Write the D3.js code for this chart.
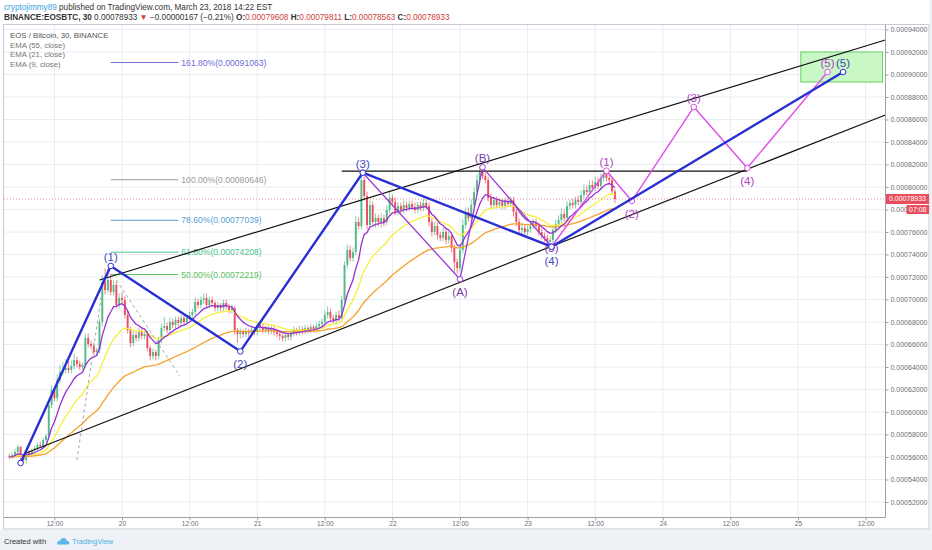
<!DOCTYPE html>
<html><head><meta charset="utf-8">
<script src="https://cdn.jsdelivr.net/npm/d3@7/dist/d3.min.js"></script>
<style>body{margin:0;background:#fff;} svg{display:block;font-family:"Liberation Sans",Arial,sans-serif;}</style>
</head><body><svg id="c" width="932" height="550"></svg>
<script>
// ---------- DATA (prices in satoshi, 1e-8 BTC) ----------
const candleStart = "2018-03-19T04:00:00Z";
const candleMinutes = 30;
const firstOpen = 56100;
const closes = [56000,56180,56440,56890,56180,55730,56440,56270,56620,56800,
 57070,56980,57510,57870,60620,61960,61240,62840,63560,63730,
 63910,63730,64090,64620,64270,64000,64180,66580,66040,65870,
 65330,65510,68000,71560,70840,71730,70670,71290,69510,70130,
 69960,68620,67290,66130,66840,66580,67110,66760,66930,65690,
 64980,65330,64980,66400,67470,67640,67290,68000,67730,68180,
 67910,68360,68000,68360,68620,68890,69780,69510,69960,70130,
 69510,69960,69690,69240,69510,69240,69690,69420,69070,69240,
 67290,66930,67110,66930,67200,67020,67290,67110,67730,67560,
 67290,67470,67200,67380,67110,66930,66760,66580,66840,66670,
 67020,67290,67110,67380,67200,67470,67290,67560,67380,67640,
 67820,68000,68620,68890,68360,68180,68620,68360,69960,73070,
 74400,73690,74220,76890,76530,80620,79200,76620,78400,76890,
 77240,76890,77240,76890,77960,79020,78670,77780,78310,77960,
 78400,78130,78490,78220,77960,78400,78130,78580,78310,76890,
 76000,76530,75730,75470,76000,75290,75640,74580,73330,72800,
 74400,76620,77780,77240,78400,79560,80620,81330,80980,80620,
 79020,78400,78840,78400,78670,78310,78760,78490,78840,77780,
 76890,76180,76360,76000,76270,76530,76890,76530,76000,75640,
 75470,75110,75290,76180,76710,77070,77600,77240,78310,78580,
 78400,78840,78670,79290,79730,79560,80180,79910,80440,80090,
 80800,81160,80800,80620,79608,78933];
// wick lengths beyond the body, in units of 100 satoshi
const upperWicks = [2,2,3,2,1,1,2,2,1,2,
 2,3,2,2,3,4,3,5,6,7,
 8,6,5,6,3,3,2,4,4,3,
 3,2,3,6,12,10,6,4,3,4,
 5,3,4,3,4,3,4,3,2,3,
 2,3,2,3,4,8,3,4,3,3,
 3,3,2,3,3,3,4,3,3,4,
 4,3,3,2,3,2,3,3,2,3,
 2,2,3,2,3,2,3,2,3,2,
 3,2,2,3,2,2,2,2,3,2,
 3,3,2,3,2,3,2,3,2,3,
 3,3,4,5,3,3,3,4,4,3,
 5,4,4,5,4,7,3,4,4,3,
 4,3,4,3,4,7,3,4,3,3,
 4,3,3,3,4,3,3,4,3,3,
 3,4,3,3,4,3,4,3,3,3,
 4,5,4,4,5,4,5,5,4,3,
 3,4,3,3,3,3,3,3,3,3,
 3,3,4,3,3,3,3,3,3,3,
 3,3,3,4,4,4,5,4,4,3,
 4,3,4,4,5,4,4,4,5,4,
 4,4,5,4,3,2.03];
const lowerWicks = [2,2,2,2,7,2,3,2,2,2,
 2,2,2,2,3,3,3,3,3,3,
 3,3,3,3,3,3,3,3,3,3,
 3,3,3,4,4,3,3,3,3,3,
 3,3,3,4,3,3,3,3,3,3,
 4,3,4,3,3,3,3,3,3,3,
 3,3,3,3,3,3,3,3,3,3,
 3,3,3,3,3,3,3,3,3,3,
 4,8,4,3,3,3,3,3,3,3,
 3,3,3,3,3,3,4,3,3,3,
 3,3,3,3,3,3,3,3,3,3,
 3,3,3,3,3,3,3,3,3,3,
 3,3,3,3,3,3,4,4,3,4,
 5,4,5,4,3,3,3,3,3,3,
 3,3,3,3,3,3,3,3,3,4,
 4,3,4,3,3,4,3,4,10,5,
 3,3,3,3,3,3,3,3,3,3,
 3,3,3,3,3,3,3,3,3,4,
 4,3,4,3,3,3,3,3,3,3,
 3,4,4,3,3,3,3,3,3,3,
 3,3,3,3,3,3,3,3,3,3,
 3,3,3,3,3,3.7];

const emaPeriods = [55, 21, 9];
const emaColors = ["#f5a02a", "#f7ef3a", "#9a2fd0"];

const yTicks = [52000,54000,56000,58000,60000,62000,64000,66000,68000,70000,72000,74000,76000,78000,80000,82000,84000,86000,88000,90000,92000,94000];
const xTickTimes = ["2018-03-19T12:00:00Z","2018-03-20T00:00:00Z","2018-03-20T12:00:00Z","2018-03-21T00:00:00Z","2018-03-21T12:00:00Z","2018-03-22T00:00:00Z","2018-03-22T12:00:00Z","2018-03-23T00:00:00Z","2018-03-23T12:00:00Z","2018-03-24T00:00:00Z","2018-03-24T12:00:00Z","2018-03-25T00:00:00Z","2018-03-25T12:00:00Z"];
const xTickLabels = ["12:00","20","12:00","21","12:00","22","12:00","23","12:00","24","12:00","25","12:00"];

const fibLabels = ["161.80%","100.00%","78.60%","61.80%","50.00%"];
const fibPrices = [91063, 80646, 77039, 74208, 72219];
const fibColors = ["#6d6dd6","#9a9a9a","#5a9fd6","#4cc28e","#5dc35d"];
const fibSpan = ["2018-03-19T22:00:00Z","2018-03-20T10:00:00Z"];

const impulseTimes = ["2018-03-19T06:00:00Z","2018-03-19T22:00:00Z","2018-03-20T21:00:00Z","2018-03-21T18:45:00Z","2018-03-23T04:15:00Z","2018-03-25T08:00:00Z"];
const impulsePrices = [55470, 72980, 65390, 81270, 74690, 90220];
const impulseLabels = ["", "(1)", "(2)", "(3)", "(4)", "(5)"];

const correctionTimes = ["2018-03-21T18:45:00Z","2018-03-22T12:00:00Z","2018-03-22T16:00:00Z","2018-03-23T04:15:00Z"];
const correctionPrices = [81270, 71800, 81750, 74690];
const correctionLabels = ["", "(A)", "(B)", "(5)"];

const projectionTimes = ["2018-03-23T04:15:00Z","2018-03-23T14:00:00Z","2018-03-23T18:30:00Z","2018-03-24T05:30:00Z","2018-03-24T15:00:00Z","2018-03-25T05:15:00Z"];
const projectionPrices = [74690, 81450, 78760, 87110, 81690, 90220];
const projectionLabels = ["", "(1)", "(2)", "(3)", "(4)", "(5)"];

const trendLines = [
  [["2018-03-19T20:00:00Z", 71730], ["2018-03-25T15:30:00Z", 93070]],
  [["2018-03-19T07:00:00Z", 56360], ["2018-03-25T15:30:00Z", 86400]],
  [["2018-03-21T15:00:00Z", 81420], ["2018-03-24T15:00:00Z", 81420]]
];
const dashedLines = [
  [["2018-03-19T16:00:00Z", 55730], ["2018-03-19T20:45:00Z", 71730]],
  [["2018-03-19T23:00:00Z", 71730], ["2018-03-20T10:15:00Z", 63200]]
];
const targetTimes = ["2018-03-25T00:30:00Z","2018-03-25T15:00:00Z"];
const targetPrices = [89330, 92000];

const symbolText = "BINANCE:EOSBTC, 30";
const changeText = "\u22120.00000167 (\u22120.21%)";
const countdownText = "07:08";

// ---------- SETUP ----------
const svg = d3.select("#c");
const W = 932, H = 550;
const P = {l: 4, r: 885.5, t: 24.5, b: 517.5};
const x = d3.scaleUtc().domain([new Date("2018-03-19T12:00:00Z"), new Date("2018-03-25T12:00:00Z")]).range([54.4, 865.6]);
const y = d3.scaleLinear().domain([52000, 94000]).range([502, 29.5]);
const fmt = v => (v / 1e8).toFixed(8);
const T = s => new Date(s);

svg.append("rect").attr("width", W).attr("height", H).attr("fill", "#eef1f6");
svg.append("rect").attr("width", 929.5).attr("height", 529.5).attr("fill", "#fff");

svg.append("defs").append("clipPath").attr("id", "pc").append("rect")
  .attr("x", P.l).attr("y", P.t).attr("width", P.r - P.l).attr("height", P.b - P.t);

const g = svg.append("g").attr("clip-path", "url(#pc)");

// grid
g.selectAll(".vg").data(xTickTimes).join("line")
  .attr("x1", d => x(T(d))).attr("x2", d => x(T(d))).attr("y1", P.t).attr("y2", P.b)
  .attr("stroke", "#e8ecf3").attr("stroke-width", 1);
g.selectAll(".hg").data(yTicks).join("line")
  .attr("x1", P.l).attr("x2", P.r).attr("y1", d => y(d)).attr("y2", d => y(d))
  .attr("stroke", "#e8ecf3").attr("stroke-width", 1);

// target box
g.append("rect")
  .attr("x", x(T(targetTimes[0]))).attr("width", x(T(targetTimes[1])) - x(T(targetTimes[0])))
  .attr("y", y(targetPrices[1])).attr("height", y(targetPrices[0]) - y(targetPrices[1]))
  .attr("fill", "#c9f7c6").attr("stroke", "#62d45e").attr("stroke-width", 1);

// fib levels
fibPrices.forEach((p, i) => {
  g.append("line").attr("x1", x(T(fibSpan[0]))).attr("x2", x(T(fibSpan[1])))
    .attr("y1", y(p)).attr("y2", y(p)).attr("stroke", fibColors[i]).attr("stroke-width", 1);
  g.append("text").attr("x", x(T(fibSpan[1])) + 3).attr("y", y(p)).attr("dy", "0.35em")
    .attr("font-size", 8.6).attr("fill", fibColors[i]).text(fibLabels[i] + "(" + fmt(p) + ")");
});

// candles
const t0 = T(candleStart).getTime();
const candles = closes.map((c, i) => {
  const o = i === 0 ? firstOpen : closes[i - 1];
  return {t: new Date(t0 + i * candleMinutes * 60000), o, c,
    h: Math.max(o, c) + upperWicks[i] * 100, l: Math.min(o, c) - lowerWicks[i] * 100};
});
const up = "#53b987", dn = "#eb4d5c";
const cg = g.append("g");
candles.forEach(d => {
  const cx = x(d.t), col = d.c >= d.o ? up : dn;
  cg.append("line").attr("x1", cx).attr("x2", cx).attr("y1", y(d.h)).attr("y2", y(d.l))
    .attr("stroke", col).attr("stroke-width", 0.7);
  const yt = y(Math.max(d.o, d.c)), yb = y(Math.min(d.o, d.c));
  cg.append("rect").attr("x", cx - 0.95).attr("width", 1.9).attr("y", yt).attr("height", Math.max(0.8, yb - yt))
    .attr("fill", col);
});

// EMAs
emaPeriods.forEach((n, k) => {
  const a = 2 / (n + 1);
  let e = null;
  const pts = candles.map(d => { e = e === null ? d.c : a * d.c + (1 - a) * e; return [d.t, e]; });
  g.append("path").datum(pts).attr("fill", "none").attr("stroke", emaColors[k]).attr("stroke-width", 1.3)
    .attr("d", d3.line().x(p => x(p[0])).y(p => y(p[1])));
});

// last price dotted line
const last = candles[candles.length - 1];
g.append("line").attr("x1", P.l).attr("x2", P.r).attr("y1", y(last.c)).attr("y2", y(last.c))
  .attr("stroke", "#e8707c").attr("stroke-width", 0.8).attr("stroke-dasharray", "1,2");

// trend lines
trendLines.forEach(l => g.append("line")
  .attr("x1", x(T(l[0][0]))).attr("y1", y(l[0][1])).attr("x2", x(T(l[1][0]))).attr("y2", y(l[1][1]))
  .attr("stroke", "#111").attr("stroke-width", 1.2));
dashedLines.forEach(l => g.append("line")
  .attr("x1", x(T(l[0][0]))).attr("y1", y(l[0][1])).attr("x2", x(T(l[1][0]))).attr("y2", y(l[1][1]))
  .attr("stroke", "#9a9a9a").attr("stroke-width", 0.9).attr("stroke-dasharray", "3,3"));

// waves
function wave(times, prices, labels, color, width, labelColor, labelOffsets) {
  const pts = times.map((t, i) => [x(T(t)), y(prices[i])]);
  g.append("path").datum(pts).attr("fill", "none").attr("stroke", color).attr("stroke-width", width)
    .attr("stroke-linejoin", "round").attr("d", d3.line());
  pts.forEach((p, i) => {
    g.append("circle").attr("cx", p[0]).attr("cy", p[1]).attr("r", 2.8)
      .attr("fill", "#fff").attr("stroke", color).attr("stroke-width", 1);
    if (labels[i]) {
      g.append("text").attr("x", p[0]).attr("y", p[1] + labelOffsets[i])
        .attr("dy", "0.35em").attr("text-anchor", "middle").attr("font-size", 11.5)
        .attr("fill", labelColor).text(labels[i]);
    }
  });
}
wave(correctionTimes, correctionPrices, correctionLabels, "#9c3ad6", 1.3, "#7d3aa8", [0, 13, -9, 1]);
wave(projectionTimes, projectionPrices, projectionLabels, "#e24ce6", 1.4, "#b03ec4", [0, -9, 13, -9, 13, -9]);
wave(impulseTimes, impulsePrices, impulseLabels, "#2a2fd4", 2.4, "#4548b8", [0, -9, 13, -9, 14, -9]);

// frame
svg.append("rect").attr("x", 3.5).attr("y", 24.5).attr("width", 925.5).attr("height", 504.5)
  .attr("fill", "none").attr("stroke", "#c7ccd4");
svg.append("line").attr("x1", P.r).attr("x2", P.r).attr("y1", P.t).attr("y2", P.b).attr("stroke", "#9da2a8");
svg.append("line").attr("x1", 3.5).attr("x2", P.r).attr("y1", P.b).attr("y2", P.b).attr("stroke", "#9da2a8");

// axes
const ya = svg.append("g").attr("transform", `translate(${P.r},0)`)
  .call(d3.axisRight(y).tickValues(yTicks).tickFormat(fmt).tickSize(3).tickPadding(2));
ya.select(".domain").remove();
ya.selectAll("line").attr("stroke", "#9da2a8");
ya.selectAll("text").attr("font-size", 7).attr("fill", "#6a6e74").attr("font-family", "Liberation Sans, Arial");

const xa = svg.append("g").attr("transform", `translate(0,${P.b})`)
  .call(d3.axisBottom(x).tickValues(xTickTimes.map(T)).tickFormat((d, i) => xTickLabels[i]).tickSize(3).tickPadding(1));
xa.select(".domain").remove();
xa.selectAll("line").attr("stroke", "#9da2a8");
xa.selectAll("text").attr("font-size", 6.6).attr("fill", "#6a6e74").attr("font-family", "Liberation Sans, Arial");

// last price label
svg.append("rect").attr("x", 886).attr("y", y(last.c) - 5).attr("width", 43).attr("height", 10).attr("fill", "#e84f5e");
svg.append("text").attr("x", 889).attr("y", y(last.c)).attr("dy", "0.35em").attr("font-size", 7).attr("fill", "#fff").text(fmt(last.c));
svg.append("rect").attr("x", 906.5).attr("y", y(last.c) + 6).attr("width", 22.5).attr("height", 9).attr("fill", "#e84f5e");
svg.append("text").attr("x", 909).attr("y", y(last.c) + 10.5).attr("dy", "0.35em").attr("font-size", 7).attr("fill", "#fff").text(countdownText);

// legend
const legend = ["EOS / Bitcoin, 30, BINANCE", "EMA (55, close)", "EMA (21, close)", "EMA (9, close)"];
legend.forEach((s, i) => svg.append("text").attr("x", 10).attr("y", 35 + i * 9.8).attr("dy", "0.35em")
  .attr("font-size", 7.8).attr("fill", i === 0 ? "#555" : "#777").text(s));

// header
const h1 = svg.append("text").attr("x", 4).attr("y", 7).attr("dy", "0.35em").attr("font-size", 8.2);
h1.append("tspan").attr("fill", "#3aa3e3").text("cryptojimmy89");
h1.append("tspan").attr("fill", "#333").text(" published on TradingView.com, March 23, 2018 14:22 EST");
const h2 = svg.append("text").attr("x", 4).attr("y", 17).attr("dy", "0.35em").attr("font-size", 8.2).attr("fill", "#333");
const red = "#d1403c";
h2.append("tspan").attr("font-weight", "bold").text(symbolText + " ");
h2.append("tspan").text(fmt(last.c) + " ");
h2.append("tspan").attr("fill", red).text("\u25BC");
h2.append("tspan").text(" " + changeText + " ");
[["O:", last.o], ["H:", last.h], ["L:", last.l], ["C:", last.c]].forEach((p, i) => {
  h2.append("tspan").attr("font-weight", "bold").text((i ? " " : "") + p[0]);
  h2.append("tspan").attr("fill", red).text(fmt(p[1]));
});

// footer
svg.append("text").attr("x", 4).attr("y", 541).attr("dy", "0.35em").attr("font-size", 7.5).attr("fill", "#333").text("Created with");
svg.append("path").attr("d", "M57,544 q0,-3 3,-3.5 q1,-3 4,-2.5 q2.5,0.5 3,3 q2.5,0 2.5,2 q0,1.5 -2,1.5 h-9 q-1.5,0 -1.5,-0.5z")
  .attr("fill", "#5ab6e6");
svg.append("text").attr("x", 72).attr("y", 541).attr("dy", "0.35em").attr("font-size", 7.5).attr("fill", "#4aaee3").text("TradingView");
</script></body></html>
